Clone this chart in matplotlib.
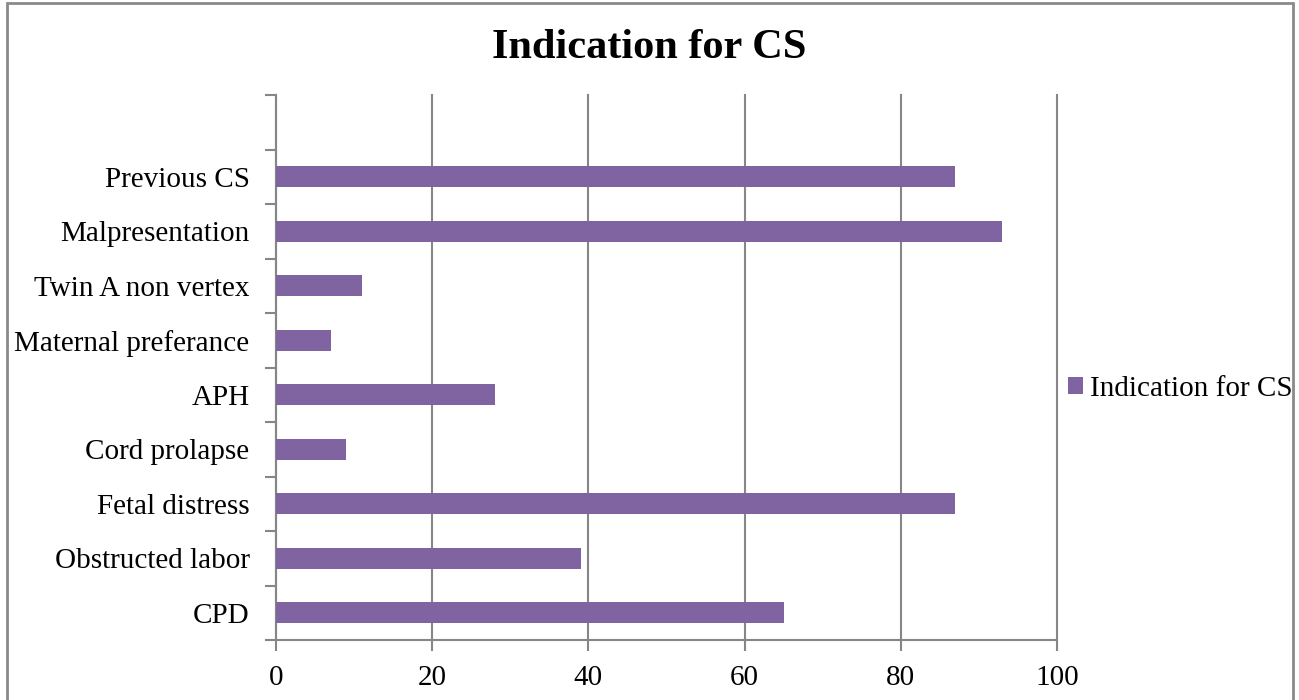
import matplotlib.pyplot as plt
from matplotlib.patches import Rectangle
import numpy as np

plt.rcParams['font.family'] = ['Liberation Serif', 'DejaVu Serif']

# Indications, bottom to top, with percentages
indications = ["CPD", "Obstructed labor", "Fetal distress", "Cord prolapse", "APH",
               "Maternal preferance", "Twin A non vertex", "Malpresentation", "Previous CS"]
values = [65, 39, 87, 9, 28, 7, 11, 93, 87]
x_ticks = [0, 20, 40, 60, 80, 100]

bar_color = "#8064A2"
grid_color = "#868686"
fs = 21

fig = plt.figure(figsize=(12.99, 7.0), dpi=100)
ax = fig.add_axes([276 / 1299, 60 / 700, 781 / 1299, 545 / 700])

pos = np.arange(len(indications))
bars = ax.barh(pos, values, height=0.38, color=bar_color, label="Indication for CS", zorder=3)

# one empty slot above the last category
ax.set_ylim(-0.5, len(indications) + 0.5)
ax.set_xlim(0, 100)
ax.set_xticks(x_ticks)
ax.set_yticks(pos)
ax.set_yticklabels(indications)
ax.set_yticks(np.arange(-0.5, len(indications) + 1), minor=True)

ax.tick_params(axis='y', which='major', length=0, pad=19, labelsize=fs)
ax.tick_params(axis='y', which='minor', length=8, width=1.5, color=grid_color)
ax.tick_params(axis='x', length=8, width=1.5, color=grid_color, pad=10, labelsize=fs)

ax.grid(axis='x', color=grid_color, linewidth=1.5, zorder=0)
for line in ax.get_xgridlines():
    line.set_clip_on(False)
for side in ['top', 'right']:
    ax.spines[side].set_visible(False)
for side in ['left', 'bottom']:
    ax.spines[side].set_color(grid_color)
    ax.spines[side].set_linewidth(1.5)

fig.text(0.5, 1 - 48 / 700, "Indication for CS", ha='center', va='center',
         fontsize=30.5, fontweight='bold')

fig.legend(handles=[bars], labels=["Indication for CS"], loc='center left',
           bbox_to_anchor=(1068 / 1299, 1 - 389 / 700), frameon=False,
           fontsize=fs, handlelength=0.5, handleheight=0.5, handletextpad=0.25,
           borderpad=0, borderaxespad=0)

# chart frame
fig.patches.append(Rectangle((7 / 1299, -0.1), 1286 / 1299, 1.1 - 3 / 700,
                             transform=fig.transFigure, fill=False,
                             edgecolor="#8a8a8a", linewidth=2))

fig.savefig("out.png", dpi=100)
